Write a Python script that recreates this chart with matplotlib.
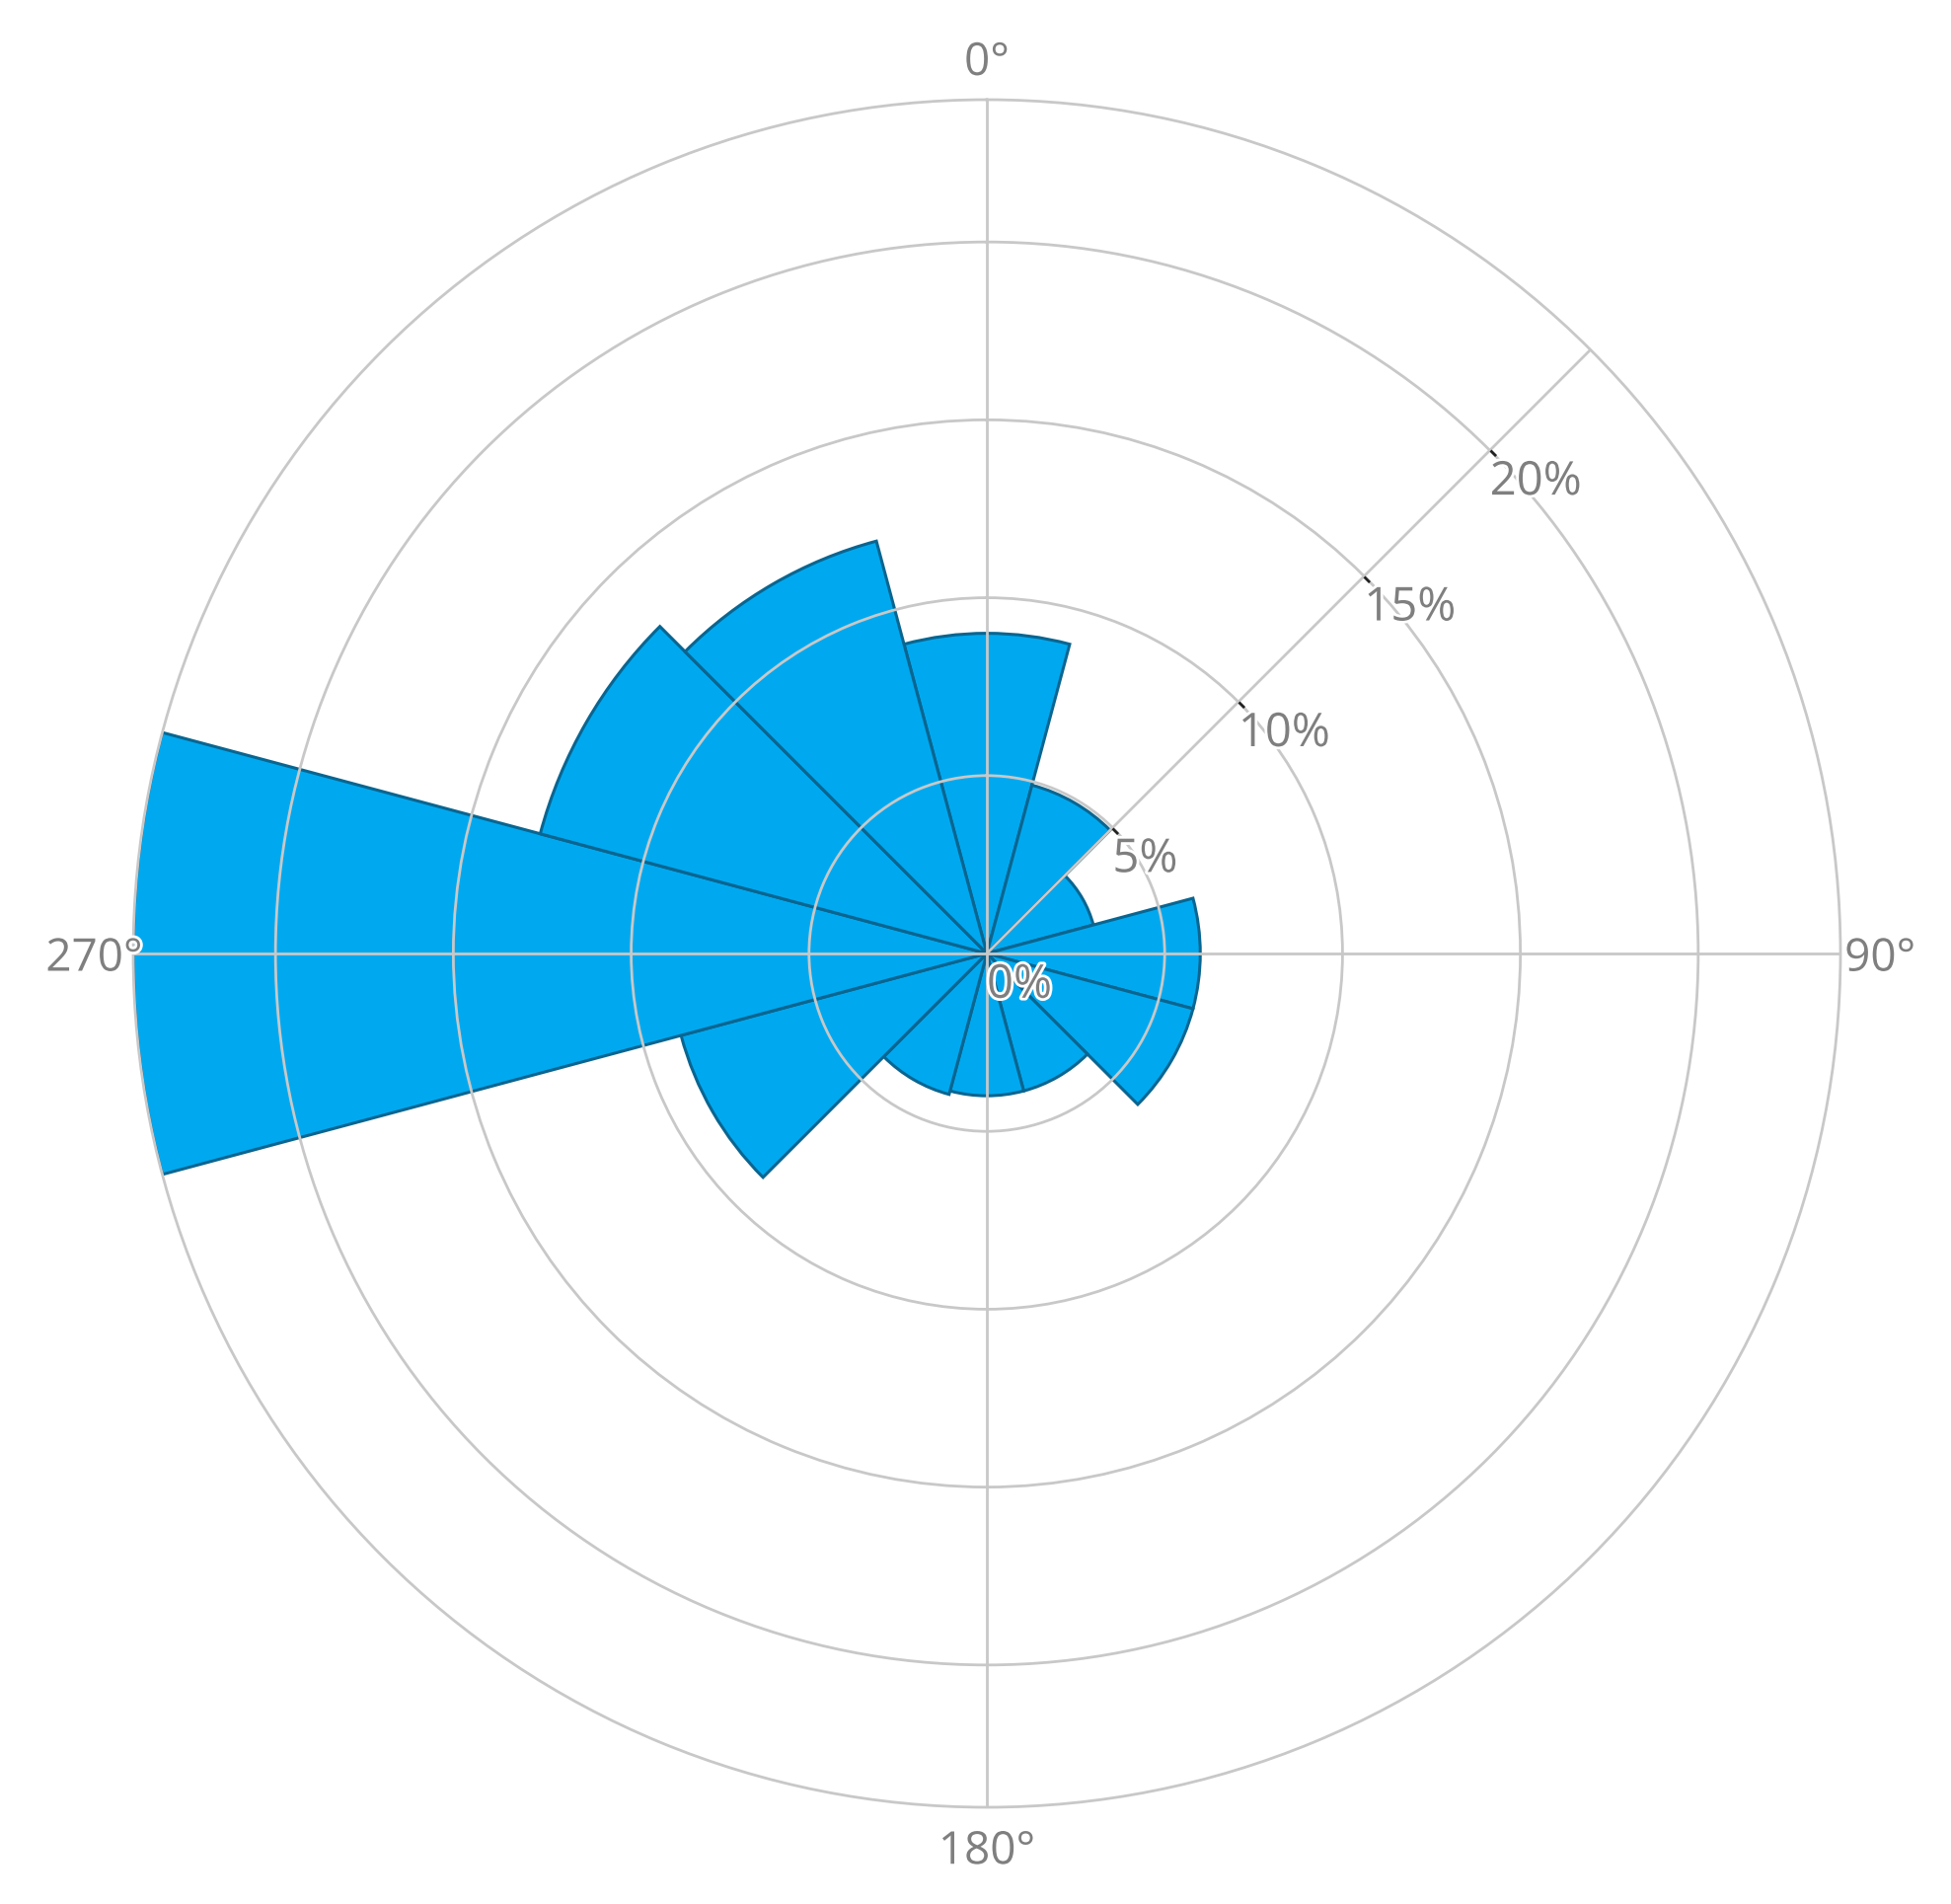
import numpy as np
import matplotlib
matplotlib.use('agg')
from matplotlib import pyplot as plt
from matplotlib.path import Path
import matplotlib.patheffects as pe

# wind direction sectors (deg, clockwise from north) and frequency (%)
directions = [0, 30, 60, 90, 120, 150, 180, 210, 240, 270, 300, 330]
frequency = [9.0, 4.9, 3.1, 6.0, 6.0, 4.0, 4.0, 4.1, 8.9, 24.0, 13.0, 12.0]
r_ticks = [0, 5, 10, 15, 20]
r_max = 24
theta_labels = ['0°', '90°', '180°', '270°']

fill = '#00A9EF'
edge = '#0A6590'
grid = '#C8C8C8'
txt = '#7F7F7F'

plt.rcParams['font.family'] = ['Open Sans', 'DejaVu Sans']

fig = plt.figure(figsize=(19.77, 19.29), dpi=100)
ax = fig.add_axes([135 / 1977, (1929 - 1831) / 1929, 1730 / 1977, 1730 / 1929],
                  projection='polar')
ax.set_theta_zero_location('N')
ax.set_theta_direction(-1)

theta = np.deg2rad(directions)
ax.bar(theta, frequency, width=np.deg2rad(30), color=fill, edgecolor=edge,
       linewidth=2.2, zorder=1)

ax.set_ylim(0, r_max)
ax.set_yticks(r_ticks[1:])
ax.set_yticklabels([])
ax.set_xticks(np.deg2rad([0, 90, 180, 270]))
ax.set_xticklabels([])
ax.tick_params(length=0)
ax.grid(True, color=grid, linewidth=2)
ax.spines['polar'].set_color(grid)
ax.spines['polar'].set_linewidth(2)

# radial axis line at 45 deg with small tick marks
a45 = np.deg2rad(45)
ax.plot([a45, a45], [0, r_max], color=grid, lw=2, zorder=3)
tick = Path([(0, 0), (1, -1)], [Path.MOVETO, Path.LINETO])
ax.plot([a45] * 4, r_ticks[1:], ls='none', marker=tick, markersize=8,
        markeredgecolor='#222222', markeredgewidth=2, zorder=4)

stroke = [pe.withStroke(linewidth=4, foreground='white')]
for r in r_ticks:
    ax.annotate(f'{r}%', xy=(a45, r), xytext=(0, -6), textcoords='offset points',
                ha='left', va='top', fontsize=34, color=txt, path_effects=stroke,
                zorder=5)

# angular labels
offsets = [((0, 18), 'center', 'baseline'),
           ((3, 0), 'left', 'center_baseline'),
           ((0, -16), 'center', 'top'),
           ((7, 0), 'right', 'center_baseline')]
for lab, ang, (off, ha, va) in zip(theta_labels, [0, 90, 180, 270], offsets):
    ax.annotate(lab, xy=(np.deg2rad(ang), r_max), xytext=off,
                textcoords='offset points', ha=ha, va=va, fontsize=33,
                color=txt, path_effects=stroke, zorder=5, annotation_clip=False)

plt.savefig('out.png', dpi=100)
